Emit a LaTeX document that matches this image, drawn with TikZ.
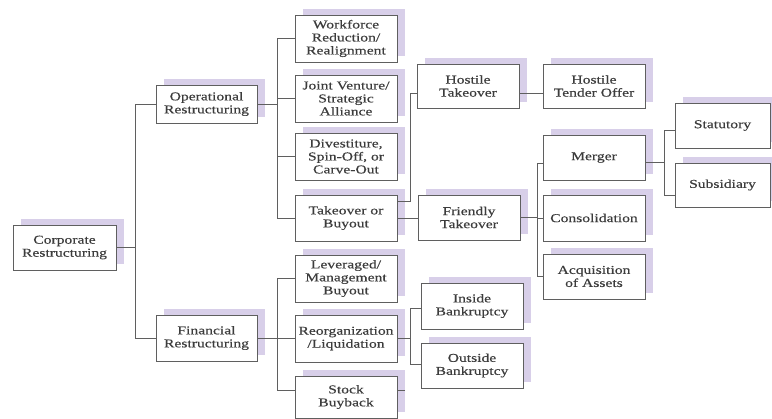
\documentclass[tikz,border=0pt]{standalone}
\usepackage{fontspec}
\setmainfont{Liberation Serif}[FakeStretch=1.3,FakeBold=0.4]
\usetikzlibrary{shadows}
\definecolor{shadowc}{RGB}{216,207,233}
\definecolor{edgec}{RGB}{95,95,95}
\definecolor{textc}{RGB}{60,60,60}
\tikzset{
  box/.style={draw=edgec, line width=0.8pt, fill=white, align=center, text=textc,
    font=\fontsize{12}{13}\selectfont, inner sep=1pt,
    general shadow={fill=shadowc, shadow xshift=8pt, shadow yshift=5.5pt}},
  link/.style={draw=edgec, line width=0.8pt}
}
\begin{document}
\begin{tikzpicture}[x=1pt,y=-1pt]
\useasboundingbox (0,0) rectangle (772,419);
% boxes
\node[box, minimum width=103pt, minimum height=45pt] (corp) at (64.5,247.5) {Corporate\\Restructuring};
\node[box, minimum width=101pt, minimum height=38pt] (oper) at (206.5,104) {Operational\\Restructuring};
\node[box, minimum width=101pt, minimum height=46pt] (fin) at (206.5,338) {Financial\\Restructuring};
\node[box, minimum width=102pt, minimum height=47pt] (wf) at (346,38.5) {Workforce\\Reduction/\\Realignment};
\node[box, minimum width=102pt, minimum height=47pt] (jv) at (346,98.5) {Joint Venture/\\Strategic\\Alliance};
\node[box, minimum width=102pt, minimum height=47pt] (div) at (346,156.5) {Divestiture,\\Spin-Off, or\\Carve-Out};
\node[box, minimum width=102pt, minimum height=46pt] (tob) at (346,218) {Takeover or\\Buyout};
\node[box, minimum width=102pt, minimum height=47pt] (lev) at (346,278.5) {Leveraged/\\Management\\Buyout};
\node[box, minimum width=102pt, minimum height=47pt] (reorg) at (346,338.5) {Reorganization\\/Liquidation};
\node[box, minimum width=102pt, minimum height=42pt] (stock) at (346,397) {Stock\\Buyback};
\node[box, minimum width=102pt, minimum height=44pt] (ht) at (468,86) {Hostile\\Takeover};
\node[box, minimum width=102pt, minimum height=44pt] (hto) at (594,86) {Hostile\\Tender Offer};
\node[box, minimum width=102pt, minimum height=45pt] (ft) at (469,217.5) {Friendly\\Takeover};
\node[box, minimum width=102pt, minimum height=45pt] (merger) at (594,157.5) {Merger};
\node[box, minimum width=102pt, minimum height=46pt] (cons) at (594,218) {Consolidation};
\node[box, minimum width=102pt, minimum height=45pt] (acq) at (594,276.5) {Acquisition\\of Assets};
\node[box, minimum width=95pt, minimum height=45pt] (stat) at (722.5,125.5) {Statutory};
\node[box, minimum width=95pt, minimum height=44pt] (sub) at (722.5,185) {Subsidiary};
\node[box, minimum width=102pt, minimum height=46pt] (inside) at (472,306) {Inside\\Bankruptcy};
\node[box, minimum width=102pt, minimum height=45pt] (outside) at (472,365.5) {Outside\\Bankruptcy};
% junction columns
\coordinate (j1) at (135,0);
\coordinate (j2) at (277,0);
\coordinate (j3) at (410,0);
\coordinate (j4) at (537,0);
\coordinate (j5) at (664,0);
\coordinate (stub) at (405,390);
% connectors
\draw[link] (corp.east) -- (corp.east -| j1);
\draw[link] (oper.west) -- (oper.west -| j1) -- (fin.west -| j1) -- (fin.west);
\draw[link] (oper.east) -- (oper.east -| j2);
\draw[link] (wf.west) -- (wf.west -| j2) -- (tob.west -| j2) -- (tob.west);
\draw[link] (jv.west) -- (jv.west -| j2);
\draw[link] (div.west) -- (div.west -| j2);
\draw[link] (fin.east) -- (fin.east -| j2);
\draw[link] (lev.west) -- (lev.west -| j2) -- ([yshift=7pt]stock.west -| j2) -- ([yshift=7pt]stock.west);
\draw[link] (reorg.west) -- (reorg.west -| j2);
\draw[link] ([yshift=17pt]tob.east) -- ([yshift=17pt]tob.east -| j3) |- ([yshift=-7pt]ht.west);
\draw[link] (tob.east) -- (tob.east -| ft.west);
\draw[link] ([yshift=-7pt]ht.east) -- ([yshift=-7pt]hto.west);
\draw[link] (ft.east) -- (ft.east -| j4);
\draw[link] ([yshift=-6pt]merger.west) -- ([yshift=-6pt]merger.west -| j4) -- (acq.west -| j4) -- (acq.west);
\draw[link] (cons.west) -- (cons.west -| j4);
\draw[link] ([yshift=-5pt]merger.east) -- ([yshift=-5pt]merger.east -| j5);
\draw[link] ([yshift=-4.5pt]stat.west) -- ([yshift=-4.5pt]stat.west -| j5) -- ([yshift=-10pt]sub.west -| j5) -- ([yshift=-10pt]sub.west);
\draw[link] (reorg.east) -- (reorg.east -| j3);
\draw[link] ([yshift=-2pt]inside.west) -- ([yshift=-2pt]inside.west -| j3) -- ([yshift=1.5pt]outside.west -| j3) -- ([yshift=1.5pt]outside.west);
\draw[link] (stub -| stock.east) -- (stub);
\end{tikzpicture}
\end{document}
